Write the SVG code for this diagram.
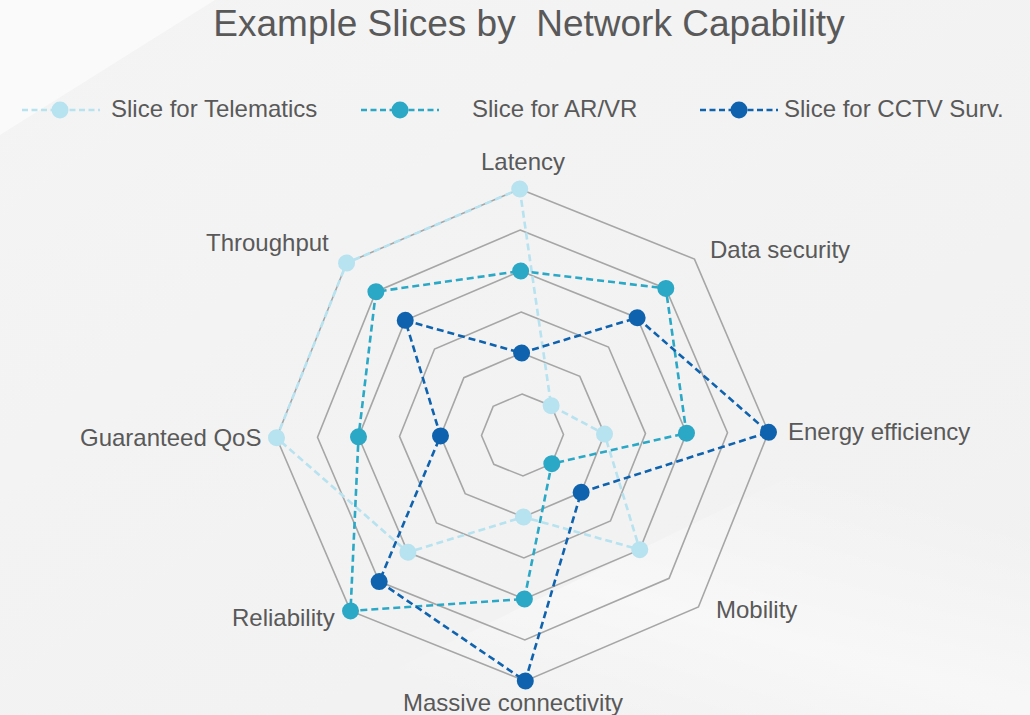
<svg xmlns="http://www.w3.org/2000/svg" width="1030" height="715" viewBox="0 0 1030 715">
  <defs>
    <linearGradient id="bg" x1="0" y1="0" x2="1" y2="1">
      <stop offset="0" stop-color="#f4f4f4"/>
      <stop offset="1" stop-color="#f1f1f1"/>
    </linearGradient>
    <linearGradient id="sheen" x1="0.3" y1="1" x2="0.7" y2="0.3">
      <stop offset="0" stop-color="#ffffff" stop-opacity="0"/>
      <stop offset="0.45" stop-color="#ffffff" stop-opacity="0.45"/>
      <stop offset="1" stop-color="#ffffff" stop-opacity="0"/>
    </linearGradient>
    <style>
      .title { font-family: "Liberation Sans", Arial, sans-serif; font-size: 37px; fill: #595959; }
      .lbl { font-family: "Liberation Sans", Arial, sans-serif; font-size: 24px; fill: #595959; }
      .grid { fill: none; stroke: #a6a6a6; stroke-width: 1.6; stroke-linejoin: miter; }
      .s { fill: none; stroke-width: 2.6; stroke-dasharray: 7 4; stroke-linejoin: round; }
      .tel { stroke: #b7e2ef; }
      .arvr { stroke: #2ba8c5; }
      .cctv { stroke: #0f63ae; }
      .dtel { fill: #b7e2ef; }
      .darvr { fill: #2ba8c5; }
      .dcctv { fill: #0f63ae; }
      .leg { fill: none; stroke-width: 2.6; stroke-dasharray: 6 3.5; }
    </style>
  </defs>

  <!-- background with soft light streaks -->
  <rect x="0" y="0" width="1030" height="715" fill="url(#bg)"/>
  <polygon points="0,0 215,0 0,135" fill="#ffffff" opacity="0.55"/>
  <polygon points="300,715 1030,360 1030,715" fill="url(#sheen)"/>

  <!-- title -->
  <text class="title" x="529" y="36" text-anchor="middle" xml:space="preserve">Example Slices by  Network Capability</text>

  <!-- legend -->
  <g id="legend">
    <g id="legend-telematics">
      <line class="leg tel" x1="22" y1="110" x2="100" y2="110"/>
      <circle class="dtel" cx="60" cy="110" r="8.5"/>
      <text class="lbl" x="111" y="117">Slice for Telematics</text>
    </g>
    <g id="legend-arvr">
      <line class="leg arvr" x1="361" y1="110" x2="439" y2="110"/>
      <circle class="darvr" cx="400" cy="110" r="8.5"/>
      <text class="lbl" x="472" y="117">Slice for AR/VR</text>
    </g>
    <g id="legend-cctv">
      <line class="leg cctv" x1="700" y1="110" x2="778" y2="110"/>
      <circle class="dcctv" cx="739" cy="110" r="8.5"/>
      <text class="lbl" x="784" y="117">Slice for CCTV Surv.</text>
    </g>
  </g>

  <!-- radar chart: 8 axes, 6 rings of 41px -->
  <g id="chart" transform="translate(522.5 435) rotate(-0.65)">
    <g id="grid">
      <polygon class="grid" points="0,-41 28.99,-28.99 41,0 28.99,28.99 0,41 -28.99,28.99 -41,0 -28.99,-28.99"/>
      <polygon class="grid" points="0,-82 57.98,-57.98 82,0 57.98,57.98 0,82 -57.98,57.98 -82,0 -57.98,-57.98"/>
      <polygon class="grid" points="0,-123 86.97,-86.97 123,0 86.97,86.97 0,123 -86.97,86.97 -123,0 -86.97,-86.97"/>
      <polygon class="grid" points="0,-164 115.97,-115.97 164,0 115.97,115.97 0,164 -115.97,115.97 -164,0 -115.97,-115.97"/>
      <polygon class="grid" points="0,-205 144.96,-144.96 205,0 144.96,144.96 0,205 -144.96,144.96 -205,0 -144.96,-144.96"/>
      <polygon class="grid" points="0,-246 173.95,-173.95 246,0 173.95,173.95 0,246 -173.95,173.95 -246,0 -173.95,-173.95"/>
    </g>

    <g id="connectors">
      <polygon id="series-telematics" class="s tel" points="0,-246 28.99,-28.99 82,0 115.97,115.97 0,82 -115.97,115.97 -246,0 -173.95,-173.95"/>
      <polygon id="series-arvr" class="s arvr" points="0,-164 144.96,-144.96 164,0 28.99,28.99 0,164 -173.95,173.95 -164,0 -144.96,-144.96"/>
      <polygon id="series-cctv" class="s cctv" points="0,-82 115.97,-115.97 246,0 57.98,57.98 0,246 -144.96,144.96 -82,0 -115.97,-115.97"/>
    </g>

    <g id="points-telematics" class="dtel">
      <circle cx="0" cy="-246" r="8.5"/>
      <circle cx="28.99" cy="-28.99" r="8.5"/>
      <circle cx="82" cy="0" r="8.5"/>
      <circle cx="115.97" cy="115.97" r="8.5"/>
      <circle cx="0" cy="82" r="8.5"/>
      <circle cx="-115.97" cy="115.97" r="8.5"/>
      <circle cx="-246" cy="0" r="8.5"/>
      <circle cx="-173.95" cy="-173.95" r="8.5"/>
    </g>
    <g id="points-arvr" class="darvr">
      <circle cx="0" cy="-164" r="8.5"/>
      <circle cx="144.96" cy="-144.96" r="8.5"/>
      <circle cx="164" cy="0" r="8.5"/>
      <circle cx="28.99" cy="28.99" r="8.5"/>
      <circle cx="0" cy="164" r="8.5"/>
      <circle cx="-173.95" cy="173.95" r="8.5"/>
      <circle cx="-164" cy="0" r="8.5"/>
      <circle cx="-144.96" cy="-144.96" r="8.5"/>
    </g>
    <g id="points-cctv" class="dcctv">
      <circle cx="0" cy="-82" r="8.5"/>
      <circle cx="115.97" cy="-115.97" r="8.5"/>
      <circle cx="246" cy="0" r="8.5"/>
      <circle cx="57.98" cy="57.98" r="8.5"/>
      <circle cx="0" cy="246" r="8.5"/>
      <circle cx="-144.96" cy="144.96" r="8.5"/>
      <circle cx="-82" cy="0" r="8.5"/>
      <circle cx="-115.97" cy="-115.97" r="8.5"/>
    </g>
  </g>

  <!-- axis labels -->
  <g id="axis-latency"><text class="lbl" x="523" y="170" text-anchor="middle">Latency</text></g>
  <g id="axis-data-security"><text class="lbl" x="710" y="258">Data security</text></g>
  <g id="axis-energy"><text class="lbl" x="788" y="440">Energy efficiency</text></g>
  <g id="axis-mobility"><text class="lbl" x="716" y="618">Mobility</text></g>
  <g id="axis-massive"><text class="lbl" x="403" y="711">Massive connectivity</text></g>
  <g id="axis-reliability"><text class="lbl" x="232" y="626">Reliability</text></g>
  <g id="axis-qos"><text class="lbl" x="80" y="446">Guaranteed QoS</text></g>
  <g id="axis-throughput"><text class="lbl" x="206" y="251">Throughput</text></g>
</svg>
